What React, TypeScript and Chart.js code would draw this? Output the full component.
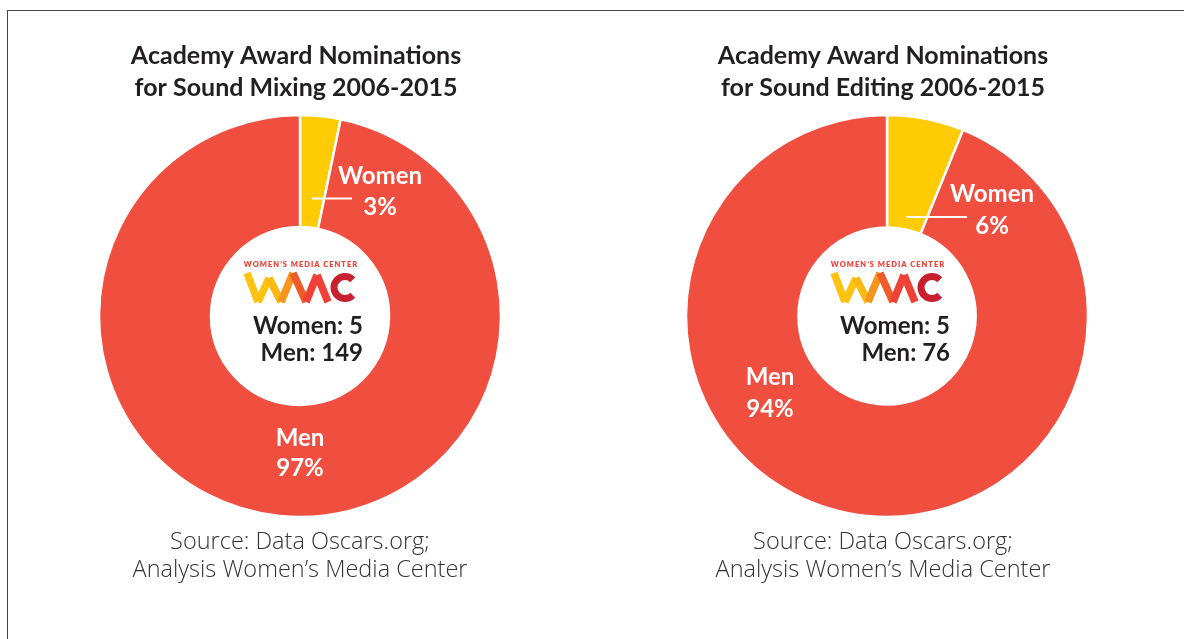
import React, { useEffect, useRef } from "react";
import { Chart, registerables } from "chart.js";

Chart.register(...registerables);

// ---- data ----
const categories = ["Women", "Men"];
const mixingCounts = [5, 149];
const editingCounts = [5, 76];
const mixingTitle = ["Academy Award Nominations", "for Sound Mixing 2006-2015"];
const editingTitle = ["Academy Award Nominations", "for Sound Editing 2006-2015"];
const sourceLines = ["Source: Data Oscars.org;", "Analysis Women\u2019s Media Center"];
const logoText = "WOMEN\u2019S MEDIA CENTER";
const sliceColors = ["#FFCB05", "#F04E3F"];

const FONT = "Lato, 'Noto Sans', sans-serif";
const SRC_FONT = "'Open Sans', Lato, sans-serif";
const W = 592;
const H = 639;

type Cfg = {
  counts: number[];
  title: string[];
  padLeft: number;
  padRight: number;
  titleDx: number;
  sourceDx: number;
  leaderR: number;
  leaderEndDx: number;
  womenLabel: { dx: number; y1: number; y2: number };
  menLabel: { dx: number; y1: number; y2: number };
};

const overlayPlugin = {
  id: "overlay",
  afterDraw(chart: any, _args: any, opts: any) {
    const cfg: Cfg = opts.cfg;
    const ctx: CanvasRenderingContext2D = chart.ctx;
    const arcs = chart.getDatasetMeta(0).data as any[];
    const a0 = arcs[0];
    const cx = a0.x;
    const cy = a0.y;
    const total = cfg.counts.reduce((s, v) => s + v, 0);
    const pct = cfg.counts.map((v) => Math.round((v / total) * 100) + "%");
    ctx.save();

    // titles
    ctx.fillStyle = "#231F20";
    ctx.textAlign = "center";
    ctx.textBaseline = "alphabetic";
    ctx.font = `700 25px ${FONT}`;
    ctx.fillText(cfg.title[0], cx + cfg.titleDx, 64);
    ctx.fillText(cfg.title[1], cx + cfg.titleDx, 96);

    // source
    ctx.fillStyle = "#333333";
    ctx.font = `300 23.5px ${SRC_FONT}`;
    ctx.fillText(sourceLines[0], cx + cfg.sourceDx, 549);
    ctx.fillText(sourceLines[1], cx + cfg.sourceDx, 577);

    // leader line for women slice
    const { startAngle, endAngle } = a0.getProps(["startAngle", "endAngle"]);
    const mid = (startAngle + endAngle) / 2;
    const lx = cx + Math.cos(mid) * cfg.leaderR;
    const ly = cy + Math.sin(mid) * cfg.leaderR;
    ctx.strokeStyle = "#FFFFFF";
    ctx.lineWidth = 2;
    ctx.beginPath();
    ctx.moveTo(lx, ly);
    ctx.lineTo(cx + cfg.leaderEndDx, ly);
    ctx.stroke();

    // slice labels
    ctx.fillStyle = "#FFFFFF";
    ctx.font = `700 24px ${FONT}`;
    ctx.fillText(categories[0], cx + cfg.womenLabel.dx, cy + cfg.womenLabel.y1);
    ctx.fillText(pct[0], cx + cfg.womenLabel.dx, cy + cfg.womenLabel.y2);
    ctx.fillText(categories[1], cx + cfg.menLabel.dx, cy + cfg.menLabel.y1);
    ctx.fillText(pct[1], cx + cfg.menLabel.dx, cy + cfg.menLabel.y2);

    // centre counts
    ctx.fillStyle = "#231F20";
    ctx.textAlign = "right";
    ctx.font = `700 24px ${FONT}`;
    ctx.fillText(`${categories[0]}: ${cfg.counts[0]}`, cx + 63, cy + 18);
    ctx.fillText(`${categories[1]}: ${cfg.counts[1]}`, cx + 63, cy + 45);

    // logo
    ctx.textAlign = "center";
    ctx.fillStyle = "#EF4136";
    ctx.font = `800 7.5px ${FONT}`;
    (ctx as any).letterSpacing = "1px";
    ctx.fillText(logoText, cx + 1, cy - 49);
    (ctx as any).letterSpacing = "0px";
    const pts = [
      [-53, -43],
      [-42, -14],
      [-31, -38],
      [-19, -14],
      [-7, -43],
      [6, -14],
      [17, -41],
      [28, -14],
    ];
    const segCols = ["#FFC20E", "#FFC20E", "#FDB913", "#F7941D", "#F15A29", "#EF4136", "#EF4136"];
    ctx.lineWidth = 7.5;
    ctx.lineCap = "butt";
    ctx.lineJoin = "miter";
    for (let i = 0; i < pts.length - 1; i++) {
      ctx.strokeStyle = segCols[i];
      ctx.beginPath();
      ctx.moveTo(cx + pts[i][0], cy + pts[i][1]);
      ctx.lineTo(cx + pts[i + 1][0], cy + pts[i + 1][1]);
      ctx.stroke();
    }
    ctx.strokeStyle = "#C8202F";
    ctx.lineWidth = 7;
    ctx.beginPath();
    ctx.arc(cx + 45, cy - 28.5, 11, -Math.PI / 4, Math.PI / 4, true);
    ctx.stroke();

    ctx.restore();
  },
};

function Donut({ cfg, left }: { cfg: Cfg; left: number }) {
  const ref = useRef<HTMLCanvasElement | null>(null);
  useEffect(() => {
    if (!ref.current) return;
    const chart = new Chart(ref.current, {
      type: "doughnut",
      data: {
        labels: categories,
        datasets: [
          {
            data: cfg.counts,
            backgroundColor: sliceColors,
            borderColor: "#FFFFFF",
            borderWidth: 2.5,
          },
        ],
      },
      options: {
        responsive: false,
        animation: false,
        devicePixelRatio: 1,
        radius: 201,
        cutout: 88,
        layout: {
          padding: { left: cfg.padLeft, right: cfg.padRight, top: 115, bottom: H - 517 },
        },
        plugins: {
          legend: { display: false },
          tooltip: { enabled: false },
          overlay: { cfg },
        } as any,
      },
      plugins: [overlayPlugin as any],
    });
    return () => chart.destroy();
  }, [cfg]);
  return (
    <canvas
      ref={ref}
      width={W}
      height={H}
      style={{ position: "absolute", left, top: 0, width: W, height: H }}
    />
  );
}

const mixingCfg: Cfg = {
  counts: mixingCounts,
  title: mixingTitle,
  padLeft: 100,
  padRight: W - 500,
  titleDx: -4,
  sourceDx: 0,
  leaderR: 118,
  leaderEndDx: 52,
  womenLabel: { dx: 80, y1: -132, y2: -101 },
  menLabel: { dx: 0, y1: 130, y2: 160 },
};

const editingCfg: Cfg = {
  counts: editingCounts,
  title: editingTitle,
  padLeft: 887 - 592 - 201,
  padRight: W - (887 - 592 + 201),
  titleDx: -4,
  sourceDx: -4,
  leaderR: 101,
  leaderEndDx: 80,
  womenLabel: { dx: 105, y1: -114, y2: -82 },
  menLabel: { dx: -117, y1: 69, y2: 101 },
};

export default function App() {
  return (
    <div
      style={{
        position: "fixed",
        left: 0,
        top: 0,
        width: 1184,
        height: 639,
        background: "#FFFFFF",
        overflow: "hidden",
      }}
    >
      <div
        style={{
          position: "absolute",
          left: 7,
          top: 10,
          width: 1200,
          height: 700,
          borderLeft: "1px solid #444",
          borderTop: "1px solid #444",
        }}
      />
      <Donut cfg={mixingCfg} left={0} />
      <Donut cfg={editingCfg} left={592} />
    </div>
  );
}
